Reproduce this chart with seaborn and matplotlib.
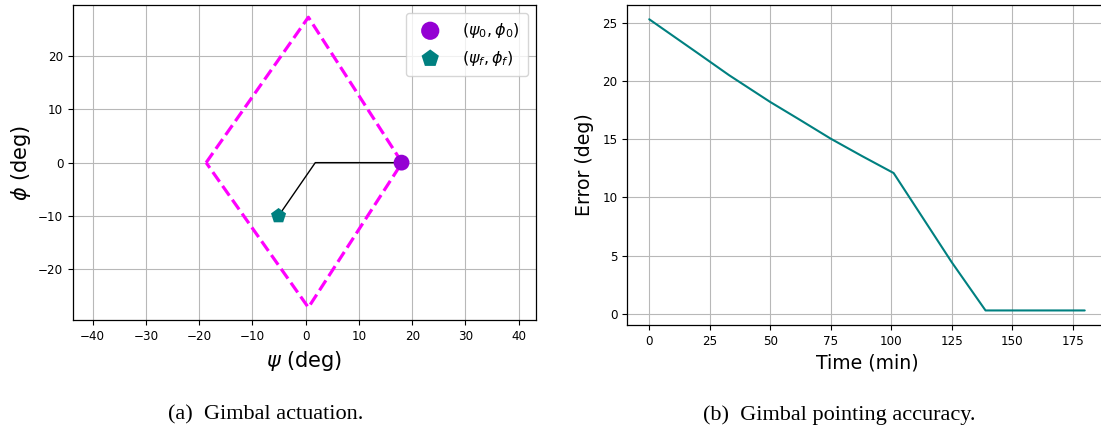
import matplotlib
matplotlib.use("Agg")
import matplotlib.pyplot as plt
import seaborn as sns
import pandas as pd

# ---- data ----
diamond_psi = [-18.7, 0.5, 18.1, 0.5, -18.7]
diamond_phi = [0.0, 27.3, 0.0, -27.2, 0.0]
path_psi = [18.0, 1.8, -5.1]
path_phi = [0.0, 0.0, -10.0]
start_psi, start_phi = [18.0], [0.0]
final_psi, final_phi = [-5.1], [-10.0]

time_min = [0, 10, 20, 33, 50, 62, 75, 88, 101, 125, 139, 180]
error_deg = [25.3, 23.85, 22.4, 20.5, 18.2, 16.7, 15.05, 13.55, 12.1, 4.45, 0.3, 0.3]

psi_ticks = [-40, -30, -20, -10, 0, 10, 20, 30, 40]
phi_ticks = [-20, -10, 0, 10, 20]
time_ticks = [0, 25, 50, 75, 100, 125, 150, 175]
err_ticks = [0, 5, 10, 15, 20, 25]

sns.set_style("ticks", {"axes.grid": True, "grid.color": "#b8b8b8",
                        "axes.edgecolor": "black", "xtick.direction": "out",
                        "ytick.direction": "out", "text.color": "black",
                        "axes.labelcolor": "black", "xtick.color": "black",
                        "ytick.color": "black"})
plt.rcParams["font.family"] = ["DejaVu Sans"]
plt.rcParams["mathtext.fontset"] = "dejavusans"
plt.rcParams["axes.unicode_minus"] = True

fig = plt.figure(figsize=(11.01, 4.33), dpi=100)
ax1 = fig.add_axes([0.0663, 0.2603, 0.4203, 0.7282])
ax2 = fig.add_axes([0.5699, 0.2494, 0.4351, 0.7397])

for ax in (ax1, ax2):
    ax.grid(True, color="#b8b8b8", linewidth=0.8)
    ax.set_axisbelow(True)
    for s in ax.spines.values():
        s.set_color("black")
        s.set_linewidth(0.9)
    ax.tick_params(labelsize=8.6, length=3.5, width=0.8, color="black", labelcolor="black")

# ---- left panel ----
ax1.plot(diamond_psi, diamond_phi, color="#FF00FF", linestyle="--", linewidth=2.3, zorder=2)
ax1.plot(path_psi, path_phi, color="black", linewidth=1.0, zorder=3)
sns.scatterplot(x=start_psi, y=start_phi, ax=ax1, color="#9400D3", marker="o", s=130,
                edgecolor="none", label=r"$(\psi_0, \phi_0)$", zorder=4)
sns.scatterplot(x=final_psi, y=final_phi, ax=ax1, color="#008080", marker="p", s=130,
                edgecolor="none", label=r"$(\psi_f, \phi_f)$", zorder=4)
ax1.set_xlim(-43.7, 43.2)
ax1.set_ylim(-29.6, 29.6)
ax1.set_xticks(psi_ticks)
ax1.set_yticks(phi_ticks)
ax1.set_xlabel(r"$\psi$ (deg)", fontsize=15, labelpad=4, color="black")
ax1.set_ylabel(r"$\phi$ (deg)", fontsize=15, labelpad=4, color="black")
leg = ax1.legend(loc="upper right", fontsize=11.5, markerscale=1.15, handletextpad=1.0,
                 borderpad=0.5, labelspacing=0.55)
for t in leg.get_texts():
    t.set_color("black")

# ---- right panel ----
df = pd.DataFrame({"Time (min)": time_min, "Error (deg)": error_deg})
sns.lineplot(data=df, x="Time (min)", y="Error (deg)", ax=ax2, color="#008080",
             linewidth=1.5, estimator=None, sort=False)
ax2.set_xlim(-9, 189)
ax2.set_ylim(-0.95, 26.55)
ax2.set_xticks(time_ticks)
ax2.set_yticks(err_ticks)
ax2.set_xlabel("Time (min)", fontsize=13.6, labelpad=4, color="black")
ax2.set_ylabel("Error (deg)", fontsize=13.6, labelpad=6, color="black")

# ---- captions ----
fig.text(266 / 1101, 1 - 415 / 433, "(a)  Gimbal actuation.", ha="center", va="center",
         fontsize=16, family=["Liberation Serif"], color="black")
fig.text(839 / 1101, 1 - 415 / 433, "(b)  Gimbal pointing accuracy.", ha="center", va="center",
         fontsize=16, family=["Liberation Serif"], color="black")

fig.savefig("out.png", dpi=100)
